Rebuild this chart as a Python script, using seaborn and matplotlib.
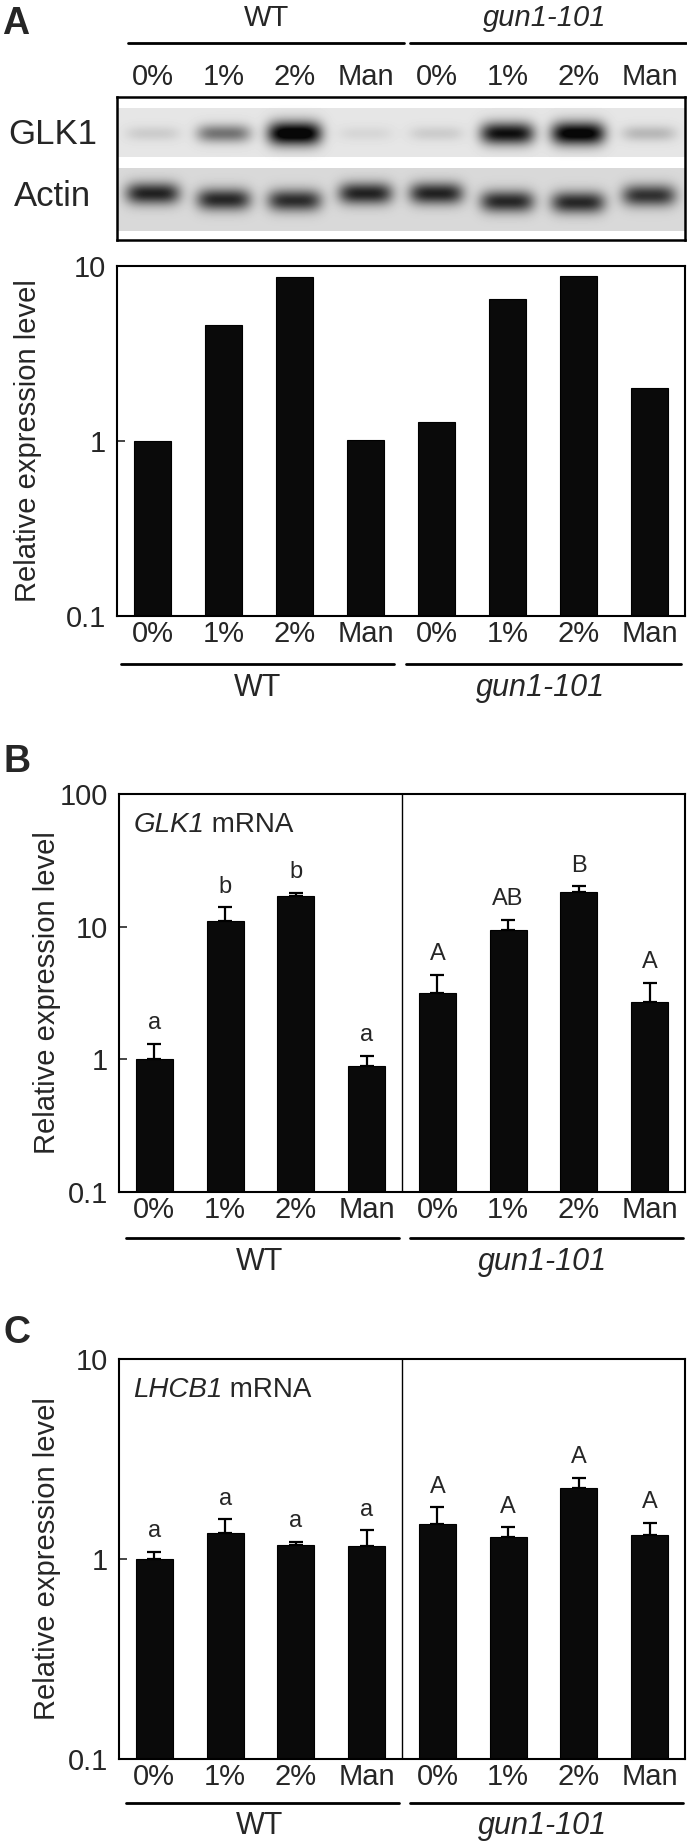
import numpy as np
import pandas as pd
import matplotlib
matplotlib.use("Agg")
import matplotlib.pyplot as plt
import seaborn as sns
from matplotlib.lines import Line2D
from matplotlib.ticker import NullLocator

# Lanes / categories
treatments = ["0%", "1%", "2%", "Man"]
genotypes = ["WT", "gun1-101"]
lanes = [f"{g} {t}" for g in genotypes for t in treatments]

# Blot band strength per lane (0 = no band, 1 = saturated)
glk1_band = [0.10, 0.45, 1.00, 0.06, 0.10, 0.85, 0.95, 0.18]
actin_band = [0.72, 0.70, 0.68, 0.72, 0.72, 0.70, 0.70, 0.66]

# A: quantified GLK1 protein
protein_level = [1.0, 4.6, 8.7, 1.01, 1.28, 6.5, 8.8, 2.0]

# B: GLK1 mRNA
glk1_mean = [1.0, 11.1, 17.1, 0.89, 3.17, 9.5, 18.4, 2.70]
glk1_err = [0.31, 2.9, 0.8, 0.17, 1.18, 1.8, 1.7, 1.07]
glk1_letters = ["a", "b", "b", "a", "A", "AB", "B", "A"]

# C: LHCB1 mRNA
lhcb1_mean = [1.0, 1.35, 1.18, 1.16, 1.50, 1.29, 2.26, 1.32]
lhcb1_err = [0.09, 0.23, 0.04, 0.23, 0.31, 0.15, 0.28, 0.20]
lhcb1_letters = ["a", "a", "a", "a", "A", "A", "A", "A"]

sns.set_style("white")
plt.rcParams["font.family"] = ["Liberation Sans", "DejaVu Sans"]

W, H = 687, 1847
fig = plt.figure(figsize=(W / 100, H / 100), dpi=100)
fig.patch.set_facecolor("white")


def px_axes(x0, y0, x1, y1):
    return fig.add_axes([x0 / W, 1 - y1 / H, (x1 - x0) / W, (y1 - y0) / H])


def ftext(x, y, s, **kw):
    kw.setdefault("ha", "center")
    kw.setdefault("va", "center")
    return fig.text(x / W, 1 - y / H, s, **kw)


def hline(x0, x1, y, lw=2.0):
    fig.add_artist(Line2D([x0 / W, x1 / W], [1 - y / H, 1 - y / H],
                          transform=fig.transFigure, color="black", lw=lw))


# ---------- blot ----------
ax_blot = px_axes(117, 97, 685, 240)
ny, nx = 143, 568
xs = np.linspace(-0.5, 7.5, nx)
ys = np.arange(ny)
X, Y = np.meshgrid(xs, ys)
dark = np.zeros((ny, nx))
dark[(Y >= 11) & (Y <= 59)] = 0.10
dark[(Y >= 71) & (Y <= 133)] = 0.15
actin_shift = [0, 6, 7, 0, 0, 8, 9, 2]
for i in range(len(lanes)):
    lane_shape = np.exp(-np.abs((X - i) / 0.38) ** 4)
    dark += glk1_band[i] * lane_shape * np.exp(-((Y - 36) / (7 + 5 * glk1_band[i])) ** 2)
    dark += actin_band[i] * lane_shape * np.exp(-((Y - 96 - actin_shift[i]) / 11) ** 2)
img = 1 - np.clip(dark, 0, 0.97)
ax_blot.imshow(img, cmap="gray", vmin=0, vmax=1, aspect="auto",
               extent=(-0.5, 7.5, ny, 0), interpolation="bilinear")
ax_blot.set_xlim(-0.5, 7.5)
ax_blot.set_yticks([])
ax_blot.xaxis.tick_top()
ax_blot.set_xticks(range(len(lanes)))
ax_blot.set_xticklabels(treatments * 2, fontsize=21)
ax_blot.tick_params(axis="x", length=0, pad=4)
for sp in ax_blot.spines.values():
    sp.set_color("black")
    sp.set_linewidth(1.8)

ftext(16, 24, "A", fontsize=27, fontweight="bold")
ftext(266, 18, "WT", fontsize=21)
ftext(545, 18, "gun1-101", fontsize=21, style="italic")
hline(128, 404, 43)
hline(410, 686, 43)
ftext(53, 135, "GLK1", fontsize=25)
ftext(53, 196, "Actin", fontsize=25)


# ---------- bar panels ----------
def bar_panel(ax, values, ymax, errs=None, letters=None, divider=False):
    ax.set_yscale("log")
    df = pd.DataFrame({"lane": lanes, "value": values})
    sns.barplot(data=df, x="lane", y="value", color="#0a0a0a", saturation=1,
                width=0.52, errorbar=None, edgecolor="black", linewidth=0.8, ax=ax)
    pos = np.arange(len(lanes))
    if errs is not None:
        ax.errorbar(pos, values, yerr=[np.zeros(len(errs)), errs], fmt="none",
                    ecolor="black", elinewidth=1.6, capsize=5, capthick=1.6)
        for i, (m, e, t) in enumerate(zip(values, errs, letters)):
            ax.annotate(t, (i, m + e), xytext=(0, 7), textcoords="offset points",
                        ha="center", va="bottom", fontsize=17)
    ax.set_xlim(-0.5, 7.5)
    ax.set_ylim(0.1, ymax)
    ticks = [t for t in [0.1, 1, 10, 100] if t <= ymax]
    ax.set_yticks(ticks)
    ax.set_yticklabels([f"{t:g}" for t in ticks], fontsize=21)
    ax.yaxis.set_minor_locator(NullLocator())
    ax.tick_params(axis="y", direction="in", length=6, width=1.2, pad=8, left=True)
    ax.set_xticks(pos)
    ax.set_xticklabels(treatments * 2, fontsize=21)
    ax.tick_params(axis="x", length=0, pad=3)
    ax.set_xlabel("")
    ax.set_ylabel("")
    for sp in ax.spines.values():
        sp.set_color("black")
        sp.set_linewidth(1.5)
    if divider:
        ax.axvline(3.5, color="black", lw=1.0)


def gene_title(ax, gene, y):
    t = ax.text(0.025, y, gene, transform=ax.transAxes, fontsize=20,
                style="italic", ha="left", va="baseline")
    ax.annotate(" mRNA", xy=(1, 0), xycoords=t, fontsize=20,
                ha="left", va="bottom")


ax_a = px_axes(117, 266, 685, 616)
bar_panel(ax_a, protein_level, 10)
ftext(28, 441, "Relative expression level", fontsize=21, rotation=90)
hline(121, 394, 664)
hline(406, 681, 664)
ftext(258, 688, "WT", fontsize=22)
ftext(540, 688, "gun1-101", fontsize=22, style="italic")

ax_b = px_axes(119, 794, 685, 1192)
bar_panel(ax_b, glk1_mean, 100, glk1_err, glk1_letters, divider=True)
gene_title(ax_b, "GLK1", 0.905)
ftext(17, 762, "B", fontsize=27, fontweight="bold")
ftext(47, 993, "Relative expression level", fontsize=21, rotation=90)
hline(126, 399, 1238)
hline(410, 683, 1238)
ftext(260, 1262, "WT", fontsize=22)
ftext(542, 1262, "gun1-101", fontsize=22, style="italic")

ax_c = px_axes(119, 1359, 685, 1759)
bar_panel(ax_c, lhcb1_mean, 10, lhcb1_err, lhcb1_letters, divider=True)
gene_title(ax_c, "LHCB1", 0.905)
ftext(17, 1333, "C", fontsize=27, fontweight="bold")
ftext(47, 1559, "Relative expression level", fontsize=21, rotation=90)
hline(126, 399, 1803)
hline(410, 683, 1803)
ftext(260, 1826, "WT", fontsize=22)
ftext(542, 1826, "gun1-101", fontsize=22, style="italic")

fig.savefig("out.png", dpi=100, facecolor="white")
